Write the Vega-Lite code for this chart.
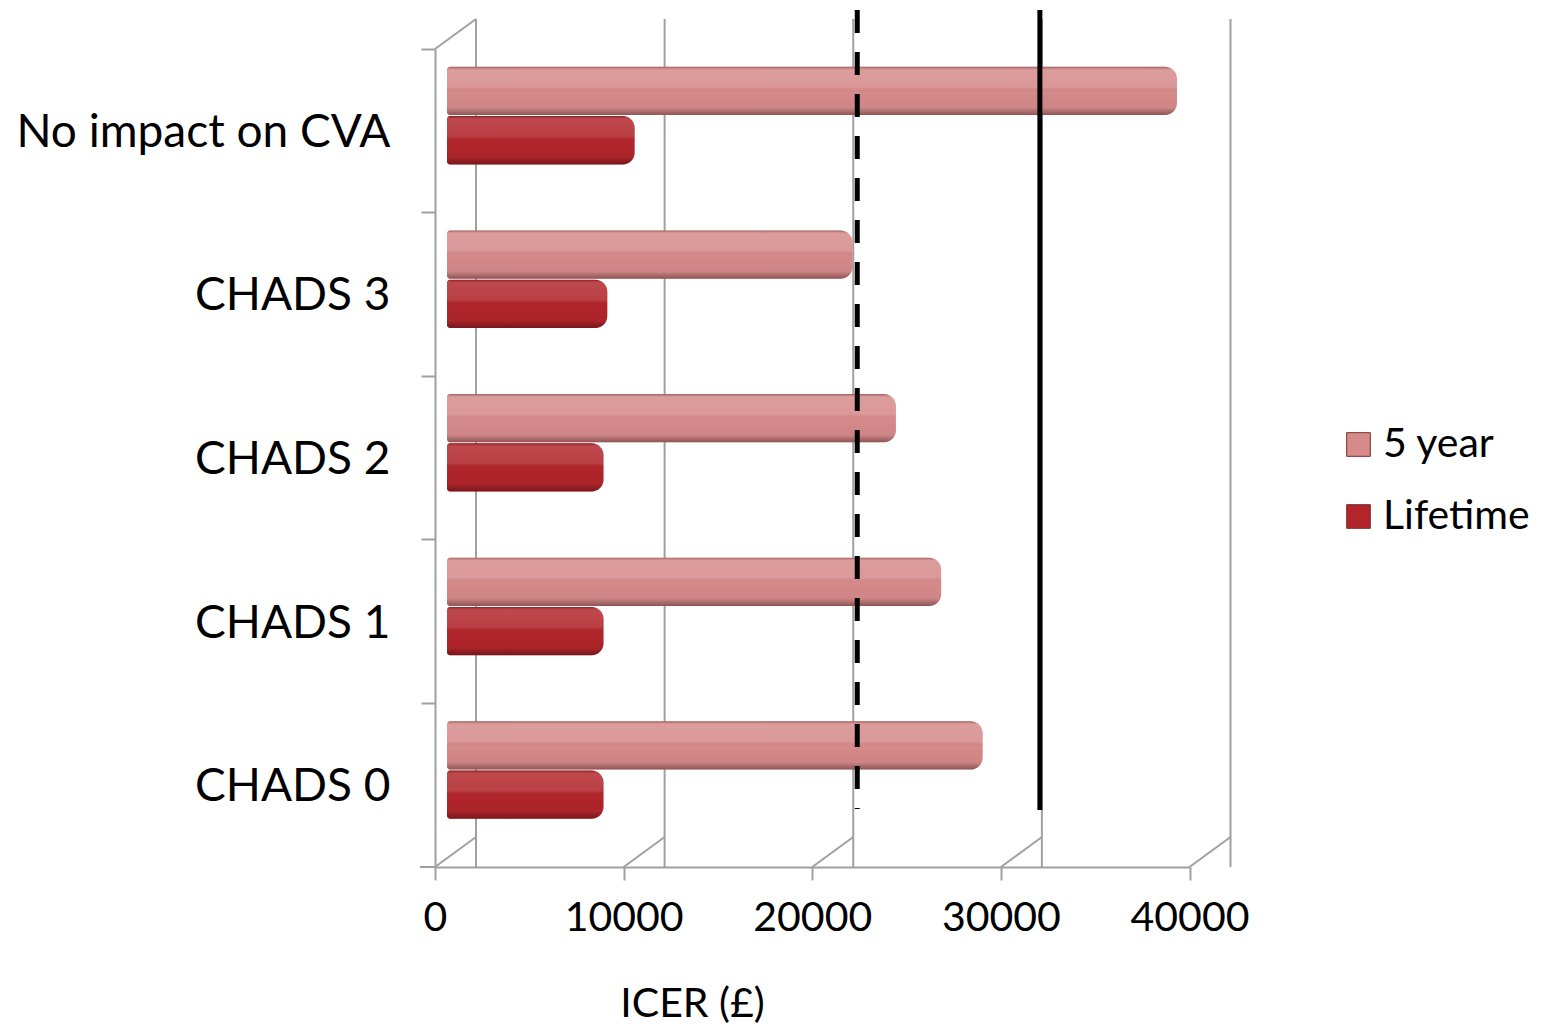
{
  "$schema": "https://vega.github.io/schema/vega-lite/v6.json",
  "width": 754.5,
  "height": 818,
  "autosize": {"type": "none"},
  "padding": {"left": 435, "top": 49, "right": 366, "bottom": 163},
  "background": "white",
  "config": {
    "font": "Lato",
    "view": {"stroke": null},
    "axis": {"labelFont": "Lato", "titleFont": "Lato", "labelColor": "#000000", "titleColor": "#000000"}
  },
  "layer": [
    {
      "description": "back wall gridlines, drawn one depth step behind the front plane",
      "data": {"values": [{"icer": 0}, {"icer": 10000}, {"icer": 20000}, {"icer": 30000}, {"icer": 40000}]},
      "mark": {"type": "rule", "color": "#A0A0A0", "strokeWidth": 2, "xOffset": 41, "x2Offset": 41, "yOffset": -30, "y2Offset": -30},
      "encoding": {
        "x": {"field": "icer", "type": "quantitative", "scale": {"domain": [0, 40000], "nice": false}}
      }
    },
    {
      "description": "floor diagonals joining the front axis to the back wall",
      "data": {"values": [{"icer": 0}, {"icer": 10000}, {"icer": 20000}, {"icer": 30000}, {"icer": 40000}]},
      "mark": {"type": "rule", "color": "#A0A0A0", "strokeWidth": 2, "x2Offset": 41, "y2Offset": -30},
      "encoding": {
        "x": {"field": "icer", "type": "quantitative"},
        "x2": {"field": "icer"},
        "y": {"value": "height"},
        "y2": {"value": "height"}
      }
    },
    {
      "description": "top edge of the side wall",
      "data": {"values": [{"icer": 0}]},
      "mark": {"type": "rule", "color": "#A0A0A0", "strokeWidth": 2, "x2Offset": 41, "y2Offset": -30},
      "encoding": {
        "x": {"field": "icer", "type": "quantitative"},
        "x2": {"field": "icer"},
        "y": {"value": 0},
        "y2": {"value": 0}
      }
    },
    {
      "description": "closing tick at the bottom of the category axis",
      "data": {"values": [{"icer": 0}]},
      "mark": {"type": "rule", "color": "#A0A0A0", "strokeWidth": 2, "xOffset": -15},
      "encoding": {
        "x": {"field": "icer", "type": "quantitative"},
        "x2": {"field": "icer"},
        "y": {"value": "height"}
      }
    },
    {
      "data": {"name": "icer"},
      "mark": {"type": "bar", "cornerRadiusTopRight": 12, "cornerRadiusBottomRight": 12, "cornerRadiusTopLeft": 3, "cornerRadiusBottomLeft": 3, "xOffset": 12, "x2Offset": 12},
      "encoding": {
        "y": {
          "field": "group", "type": "nominal",
          "sort": ["No impact on CVA", "CHADS 3", "CHADS 2", "CHADS 1", "CHADS 0"],
          "scale": {"paddingInner": 0, "paddingOuter": 0},
          "axis": {
            "title": null, "bandPosition": 0, "domainColor": "#A0A0A0", "domainWidth": 2,
            "tickColor": "#A0A0A0", "tickWidth": 2, "tickSize": 14,
            "labelFontSize": 46, "labelPadding": 31, "labelBaseline": "middle", "labelAlign": "right",
            "labelLimit": 0, "labelOffset": 2
          }
        },
        "yOffset": {
          "field": "series", "type": "nominal", "sort": ["5 year", "Lifetime"],
          "scale": {"paddingInner": 0.02, "paddingOuter": 0.67, "align": 0.27}
        },
        "x": {
          "field": "icer", "type": "quantitative", "stack": null,
          "scale": {"domain": [0, 40000], "nice": false},
          "axis": {
            "values": [0, 10000, 20000, 30000, 40000], "format": "d", "grid": false,
            "domainColor": "#A0A0A0", "domainWidth": 2, "tickColor": "#A0A0A0", "tickWidth": 2, "tickSize": 13,
            "labelFontSize": 41, "labelPadding": 18, "labelFlush": false,
            "title": "ICER (£)", "titleFontSize": 41, "titleFontWeight": "normal", "titlePadding": 46,
            "titleX": 257, "titleAlign": "center", "titleAnchor": "start"
          }
        },
        "x2": {"datum": 0},
        "color": {
          "field": "series", "type": "nominal",
          "scale": {"domain": ["5 year", "Lifetime"], "range": ["#D68A8A", "#B1252B"]},
          "legend": {
            "title": null, "orient": "none", "legendX": 903, "legendY": 375,
            "symbolType": "square", "symbolSize": 560, "symbolStrokeWidth": 1, "symbolStrokeColor": "#7a3030",
            "labelFontSize": 41, "labelFont": "Lato", "labelColor": "#000000", "labelOffset": 4, "rowPadding": 30
          }
        }
      }
    },
    {
      "description": "shading overlay giving the bars a rounded, lit look",
      "data": {"name": "icer"},
      "mark": {
        "type": "bar", "cornerRadiusTopRight": 12, "cornerRadiusBottomRight": 12, "cornerRadiusTopLeft": 3, "cornerRadiusBottomLeft": 3, "xOffset": 12, "x2Offset": 12,
        "fill": {
          "gradient": "linear", "x1": 0, "y1": 0, "x2": 0, "y2": 1,
          "stops": [
            {"offset": 0, "color": "rgba(60,0,0,0.35)"},
            {"offset": 0.07, "color": "rgba(255,255,255,0.16)"},
            {"offset": 0.42, "color": "rgba(255,255,255,0.12)"},
            {"offset": 0.52, "color": "rgba(0,0,0,0)"},
            {"offset": 0.85, "color": "rgba(0,0,0,0.04)"},
            {"offset": 1, "color": "rgba(40,0,0,0.4)"}
          ]
        }
      },
      "encoding": {
        "y": {"field": "group", "type": "nominal", "sort": ["No impact on CVA", "CHADS 3", "CHADS 2", "CHADS 1", "CHADS 0"]},
        "yOffset": {"field": "series", "type": "nominal", "sort": ["5 year", "Lifetime"]},
        "x": {"field": "icer", "type": "quantitative", "stack": null},
        "x2": {"datum": 0}
      }
    },
    {
      "description": "£20,000 willingness-to-pay threshold",
      "data": {"values": [{"icer": 20000}]},
      "mark": {"type": "rule", "color": "#000000", "strokeWidth": 5, "strokeDash": [23, 19], "xOffset": 45, "yOffset": -39, "y2Offset": -58},
      "encoding": {
        "x": {"field": "icer", "type": "quantitative"},
        "y": {"value": 0},
        "y2": {"value": "height"}
      }
    },
    {
      "description": "£30,000 willingness-to-pay threshold",
      "data": {"values": [{"icer": 30000}]},
      "mark": {"type": "rule", "color": "#000000", "strokeWidth": 5, "xOffset": 39, "yOffset": -39, "y2Offset": -57},
      "encoding": {
        "x": {"field": "icer", "type": "quantitative"},
        "y": {"value": 0},
        "y2": {"value": "height"}
      }
    }
  ],
  "datasets": {
    "icer": [
      {"group": "No impact on CVA", "series": "5 year", "icer": 38700},
      {"group": "No impact on CVA", "series": "Lifetime", "icer": 9950},
      {"group": "CHADS 3", "series": "5 year", "icer": 21500},
      {"group": "CHADS 3", "series": "Lifetime", "icer": 8500},
      {"group": "CHADS 2", "series": "5 year", "icer": 23800},
      {"group": "CHADS 2", "series": "Lifetime", "icer": 8300},
      {"group": "CHADS 1", "series": "5 year", "icer": 26200},
      {"group": "CHADS 1", "series": "Lifetime", "icer": 8300},
      {"group": "CHADS 0", "series": "5 year", "icer": 28400},
      {"group": "CHADS 0", "series": "Lifetime", "icer": 8300}
    ]
  }
}
